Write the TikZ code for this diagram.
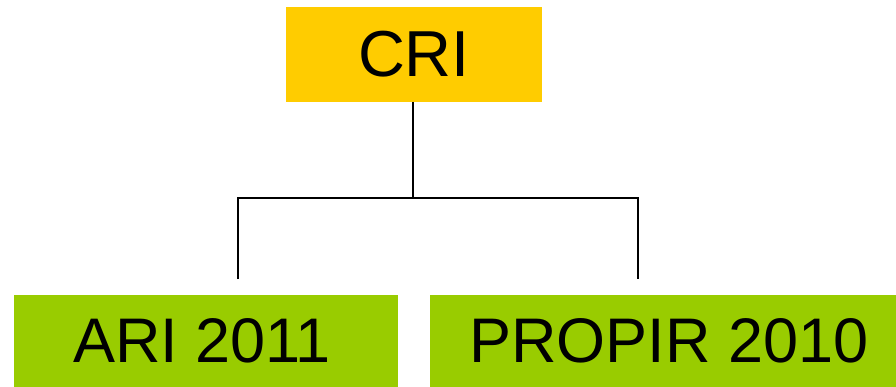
\documentclass[tikz,border=0pt]{standalone}
\usepackage{fontspec}
\setmainfont{Liberation Sans}
\definecolor{cribg}{HTML}{FFCC00}
\definecolor{subbg}{HTML}{99CC00}
\begin{document}
\begin{tikzpicture}[x=1pt,y=-1pt,
  box/.style={inner sep=0pt,outer sep=0pt,font=\fontsize{65}{70}\selectfont,text=black},
  subbox/.style={box,fill=subbg,minimum height=92pt,font=\fontsize{63}{68}\selectfont},
  conn/.style={line width=2pt,black}]
\useasboundingbox (0,0) rectangle (896,387);
\node[box,fill=cribg,minimum width=256pt,minimum height=95pt] (cri) at (414,54.5) {CRI};
\node[subbox,minimum width=384pt] (ari) at (206,341) {\hspace*{-8pt}ARI 2011};
\node[subbox,minimum width=466pt] (pro) at (663,341) {\hspace*{12pt}PROPIR 2010};
\coordinate (j) at (413,198);
\coordinate (lt) at (238,198);
\coordinate (rt) at (638,198);
\coordinate (l) at (238,279);
\coordinate (r) at (638,279);
\draw[conn] (cri.south -| j) -- (j);
\draw[conn] (l) -- (lt) -- (rt) -- (r);
\end{tikzpicture}
\end{document}
